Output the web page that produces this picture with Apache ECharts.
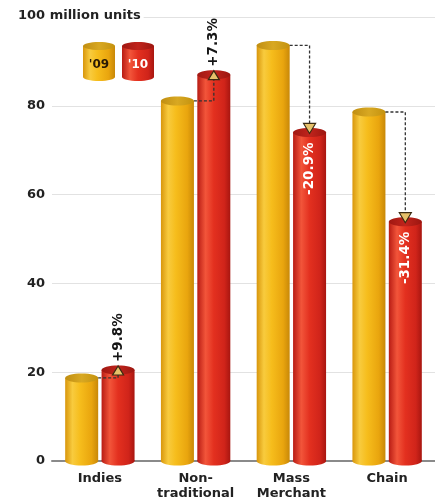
<!DOCTYPE html>
<html>
<head>
<meta charset="utf-8">
<script src="https://cdn.jsdelivr.net/npm/echarts@6/dist/echarts.min.js"></script>
<style>
  html, body { margin: 0; padding: 0; background: #fff; }
  #chart { width: 435px; height: 501px; }
</style>
</head>
<body>
<div id="chart"></div>
<script>
// data
var categories = ['Indies', 'Non-\ntraditional', 'Mass\nMerchant', 'Chain'];
var sales2009 = [18.7, 81.1, 93.6, 78.6];
var sales2010 = [20.5, 87.0, 74.0, 53.9];
var changeLabels = ['+9.8%', '+7.3%', '-20.9%', '-31.4%'];
var yTicks = [0, 20, 40, 60, 80, 100];

var font = '"DejaVu Sans", "Open Sans", sans-serif';
var barW = 33;      // cylinder width
var ry = 4.5;       // ellipse half-height
var offRatio = 0.19; // bar offset from category center (share of band)

var yellowBody = function () {
  return new echarts.graphic.LinearGradient(0, 0, 1, 0, [
    { offset: 0, color: '#d8960c' },
    { offset: 0.22, color: '#f8cb3e' },
    { offset: 0.45, color: '#f6bd1c' },
    { offset: 0.8, color: '#e9a50e' },
    { offset: 1, color: '#c88808' }
  ]);
};
var yellowTop = function () {
  return new echarts.graphic.LinearGradient(0, 0, 1, 0, [
    { offset: 0, color: '#c08e12' },
    { offset: 0.5, color: '#d8a822' },
    { offset: 1, color: '#c4920e' }
  ]);
};
var redBody = function () {
  return new echarts.graphic.LinearGradient(0, 0, 1, 0, [
    { offset: 0, color: '#b81c14' },
    { offset: 0.25, color: '#f2553a' },
    { offset: 0.5, color: '#e3301f' },
    { offset: 0.82, color: '#d0241a' },
    { offset: 1, color: '#a81610' }
  ]);
};
var redTop = function () {
  return new echarts.graphic.LinearGradient(0, 0, 1, 0, [
    { offset: 0, color: '#a01812' },
    { offset: 0.5, color: '#c0241c' },
    { offset: 1, color: '#9c1610' }
  ]);
};

// 圆柱
function cylinder (dir, body, top) {
  return function (params, api) {
    var idx = api.value(0);
    var p = api.coord([idx, api.value(1)]);
    var base = api.coord([idx, 0]);
    var band = api.size([1, 0])[0];
    var cx = p[0] + dir * band * offRatio;
    return {
      type: 'group',
      children: [
        { type: 'ellipse', shape: { cx: cx, cy: base[1], rx: barW / 2, ry: ry }, style: { fill: body() } },
        { type: 'rect', shape: { x: cx - barW / 2, y: p[1], width: barW, height: base[1] - p[1] }, style: { fill: body() } },
        { type: 'ellipse', shape: { cx: cx, cy: p[1], rx: barW / 2, ry: ry }, style: { fill: top() } }
      ]
    };
  };
}

// 变化箭头 + 百分比
function changeArrow (params, api) {
  var idx = api.value(0);
  var v09 = api.value(1);
  var v10 = api.value(2);
  var p09 = api.coord([idx, v09]);
  var p10 = api.coord([idx, v10]);
  var band = api.size([1, 0])[0];
  var yRight = p09[0] - band * offRatio + barW / 2;
  var rx = p09[0] + band * offRatio;
  var up = v10 > v09;
  var tri, lineEnd, label;
  if (up) {
    tri = [[rx, p10[1] - 4], [rx - 5.5, p10[1] + 5], [rx + 5.5, p10[1] + 5]];
    lineEnd = p10[1] + 5;
    label = {
      type: 'text', x: rx, y: p10[1] - 8, rotation: Math.PI / 2,
      style: { text: changeLabels[idx], align: 'left', verticalAlign: 'middle', fill: '#151515', font: 'bold 13.5px ' + font }
    };
  } else {
    tri = [[rx, p10[1] + 1], [rx - 6, p10[1] - 9], [rx + 6, p10[1] - 9]];
    lineEnd = p10[1] - 9;
    label = {
      type: 'text', x: rx, y: p10[1] + 10, rotation: Math.PI / 2,
      style: { text: changeLabels[idx], align: 'right', verticalAlign: 'middle', fill: '#ffffff', font: 'bold 13.5px ' + font }
    };
  }
  return {
    type: 'group',
    children: [
      {
        type: 'polyline',
        shape: { points: [[yRight, p09[1]], [rx, p09[1]], [rx, lineEnd]] },
        style: { stroke: '#333', lineWidth: 1.3, lineDash: [3, 2], fill: null }
      },
      {
        type: 'polygon', shape: { points: tri },
        style: { fill: '#e6c16a', stroke: '#3a2a12', lineWidth: 1.2 }
      },
      label
    ]
  };
}

var arrowData = categories.map(function (c, i) { return [i, sales2009[i], sales2010[i]]; });

var myChart = echarts.init(document.getElementById('chart'));
var options = {
  animation: false,
  backgroundColor: '#ffffff',
  grid: { left: 52, right: -5, top: 17, bottom: 40 },
  xAxis: {
    type: 'category',
    data: categories,
    axisLine: { lineStyle: { color: '#8a8a8a', width: 2 } },
    axisTick: { show: false },
    axisLabel: {
      interval: 0, hideOverlap: false,
      color: '#222', fontFamily: font, fontWeight: 'bold', fontSize: 13, lineHeight: 15, margin: 10
    }
  },
  yAxis: {
    type: 'value',
    min: yTicks[0],
    max: yTicks[yTicks.length - 1],
    interval: 20,
    axisLine: { show: false },
    axisTick: { show: false },
    splitLine: { lineStyle: { color: '#e2e2e2', width: 1 } },
    axisLabel: {
      color: '#222', fontFamily: font, fontWeight: 'bold', fontSize: 13, margin: 7,
      formatter: function (v) { return v === 100 ? '' : v; }
    }
  },
  graphic: [
    // 单位
    {
      type: 'text', left: 18, top: 9, z: 10,
      style: { text: '100 million units', font: 'bold 13px ' + font, fill: '#222', backgroundColor: '#fff', padding: [0, 3, 0, 0] }
    },
    // 图例 '09
    {
      type: 'group', left: 83, top: 42, z: 10,
      children: [
        { type: 'ellipse', shape: { cx: 16, cy: 35, rx: 16, ry: 4 }, style: { fill: yellowBody() } },
        { type: 'rect', shape: { x: 0, y: 4, width: 32, height: 31 }, style: { fill: yellowBody() } },
        { type: 'ellipse', shape: { cx: 16, cy: 4, rx: 16, ry: 4 }, style: { fill: yellowTop() } },
        { type: 'text', style: { x: 16, y: 23, text: '\'09', align: 'center', verticalAlign: 'middle', fill: '#2a1a05', font: 'bold 12px ' + font } }
      ]
    },
    // 图例 '10
    {
      type: 'group', left: 122, top: 42, z: 10,
      children: [
        { type: 'ellipse', shape: { cx: 16, cy: 35, rx: 16, ry: 4 }, style: { fill: redBody() } },
        { type: 'rect', shape: { x: 0, y: 4, width: 32, height: 31 }, style: { fill: redBody() } },
        { type: 'ellipse', shape: { cx: 16, cy: 4, rx: 16, ry: 4 }, style: { fill: redTop() } },
        { type: 'text', style: { x: 16, y: 23, text: '\'10', align: 'center', verticalAlign: 'middle', fill: '#ffffff', font: 'bold 12px ' + font } }
      ]
    }
  ],
  series: [
    {
      name: '2009', type: 'custom', renderItem: cylinder(-1, yellowBody, yellowTop),
      data: sales2009.map(function (v, i) { return [i, v]; }), encode: { x: 0, y: 1 }, z: 2
    },
    {
      name: '2010', type: 'custom', renderItem: cylinder(1, redBody, redTop),
      data: sales2010.map(function (v, i) { return [i, v]; }), encode: { x: 0, y: 1 }, z: 3
    },
    {
      name: 'change', type: 'custom', renderItem: changeArrow,
      data: arrowData, encode: { x: 0, y: [1, 2] }, z: 4
    }
  ]
};
myChart.setOption(options);
</script>
</body>
</html>
